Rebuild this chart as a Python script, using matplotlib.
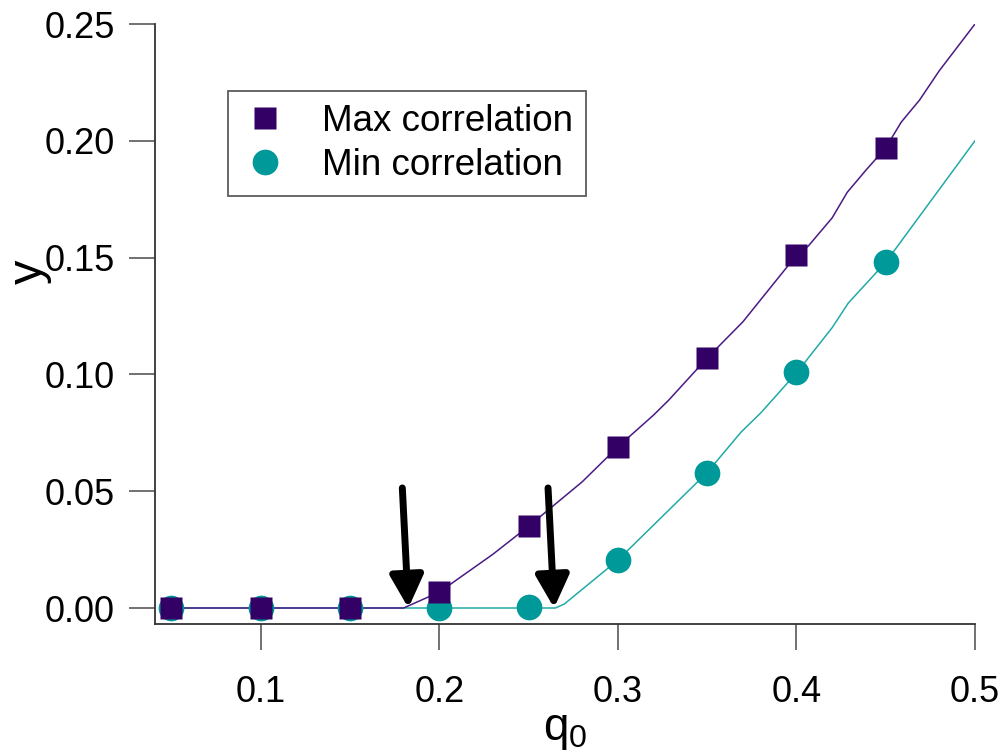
import matplotlib
matplotlib.use('Agg')
import matplotlib.pyplot as plt
from matplotlib.ticker import FormatStrFormatter

plt.rcParams['font.family'] = ['Liberation Sans', 'DejaVu Sans']
plt.rcParams['mathtext.fontset'] = 'custom'
plt.rcParams['mathtext.rm'] = 'Liberation Sans'
plt.rcParams['mathtext.it'] = 'Liberation Sans'

# marker data
q_pts = [0.05, 0.10, 0.15, 0.20, 0.25, 0.30, 0.35, 0.40, 0.45]
y_max_pts = [0.0, 0.0, 0.0, 0.0068, 0.035, 0.069, 0.107, 0.151, 0.197]
y_min_pts = [0.0, 0.0, 0.0, 0.0, 0.0005, 0.0205, 0.058, 0.101, 0.148]

# curves
q_max_line = [0.05, 0.18, 0.20, 0.23, 0.25, 0.28, 0.30, 0.32, 0.3285, 0.35, 0.37,
              0.40, 0.4067, 0.42, 0.4285, 0.439, 0.45, 0.4587, 0.469, 0.48, 0.50]
y_max_line = [0.0, 0.0, 0.0068, 0.023, 0.035, 0.054, 0.069, 0.0826, 0.089, 0.107, 0.1225,
              0.151, 0.155, 0.167, 0.178, 0.1875, 0.197, 0.208, 0.2175, 0.230, 0.250]
q_min_line = [0.05, 0.265, 0.27, 0.30, 0.35, 0.369, 0.38, 0.40, 0.42, 0.429, 0.45, 0.50]
y_min_line = [0.0, 0.0, 0.0017, 0.0205, 0.058, 0.0753, 0.0835, 0.1006, 0.12, 0.1305, 0.148, 0.200]

# arrows: (tail, tip)
arrows = [((0.1793, 0.0514), (0.1827, 0.0)),
          ((0.2609, 0.0514), (0.2643, 0.0))]

fig = plt.figure(figsize=(10.04, 7.53), dpi=100)
ax = fig.add_axes([0.1544, 0.1713, 0.8167, 0.7968])

ax.plot(q_min_line, y_min_line, color='#22aaa6', lw=1.1, zorder=2)
ax.plot(q_max_line, y_max_line, color='#4a1a85', lw=1.1, zorder=2)
ax.plot(q_pts, y_min_pts, 'o', color='#009999', ms=18.5, mec='none', zorder=3,
        label='Min correlation')
ax.plot(q_pts, y_max_pts, 's', color='#330066', ms=16, mec='none', zorder=4,
        label='Max correlation')

for tail, tip in arrows:
    ax.annotate('', xy=tip, xytext=tail,
                arrowprops=dict(arrowstyle='-|>,head_width=0.36,head_length=0.7',
                                lw=5, color='black', mutation_scale=28,
                                shrinkA=0, shrinkB=0), zorder=5)

ax.set_xlim(0.0408, 0.5)
ax.set_ylim(-0.00685, 0.25)
ax.set_xticks([0.1, 0.2, 0.3, 0.4, 0.5])
ax.set_yticks([0.0, 0.05, 0.10, 0.15, 0.20, 0.25])
ax.xaxis.set_major_formatter(FormatStrFormatter('%.1f'))
ax.yaxis.set_major_formatter(FormatStrFormatter('%.2f'))

for s in ['top', 'right']:
    ax.spines[s].set_visible(False)
for s in ['left', 'bottom']:
    ax.spines[s].set_color('#333333')
    ax.spines[s].set_linewidth(1.3)

ax.tick_params(axis='y', direction='out', length=19, width=1.3, color='#666666',
               labelsize=26, pad=10)
ax.tick_params(axis='x', direction='out', length=19, width=1.3, color='#666666',
               labelsize=26, pad=18)

ax.set_xlabel('q$_0$', fontsize=33, labelpad=-2)
ax.set_ylabel('y', fontsize=35)
ax.yaxis.set_label_coords(-0.126, 0.587)

# legend: squares first, like the reference
handles, labels = ax.get_legend_handles_labels()
leg = ax.legend(handles[::-1], labels[::-1], loc='upper left',
                bbox_to_anchor=(0.089, 0.888), borderaxespad=0, fontsize=26.5,
                frameon=True, fancybox=False, edgecolor='#333333',
                handletextpad=0.9, handlelength=1.3, borderpad=0.35,
                labelspacing=0.25)
leg.get_frame().set_linewidth(1.3)

fig.savefig('out.png', dpi=100)
